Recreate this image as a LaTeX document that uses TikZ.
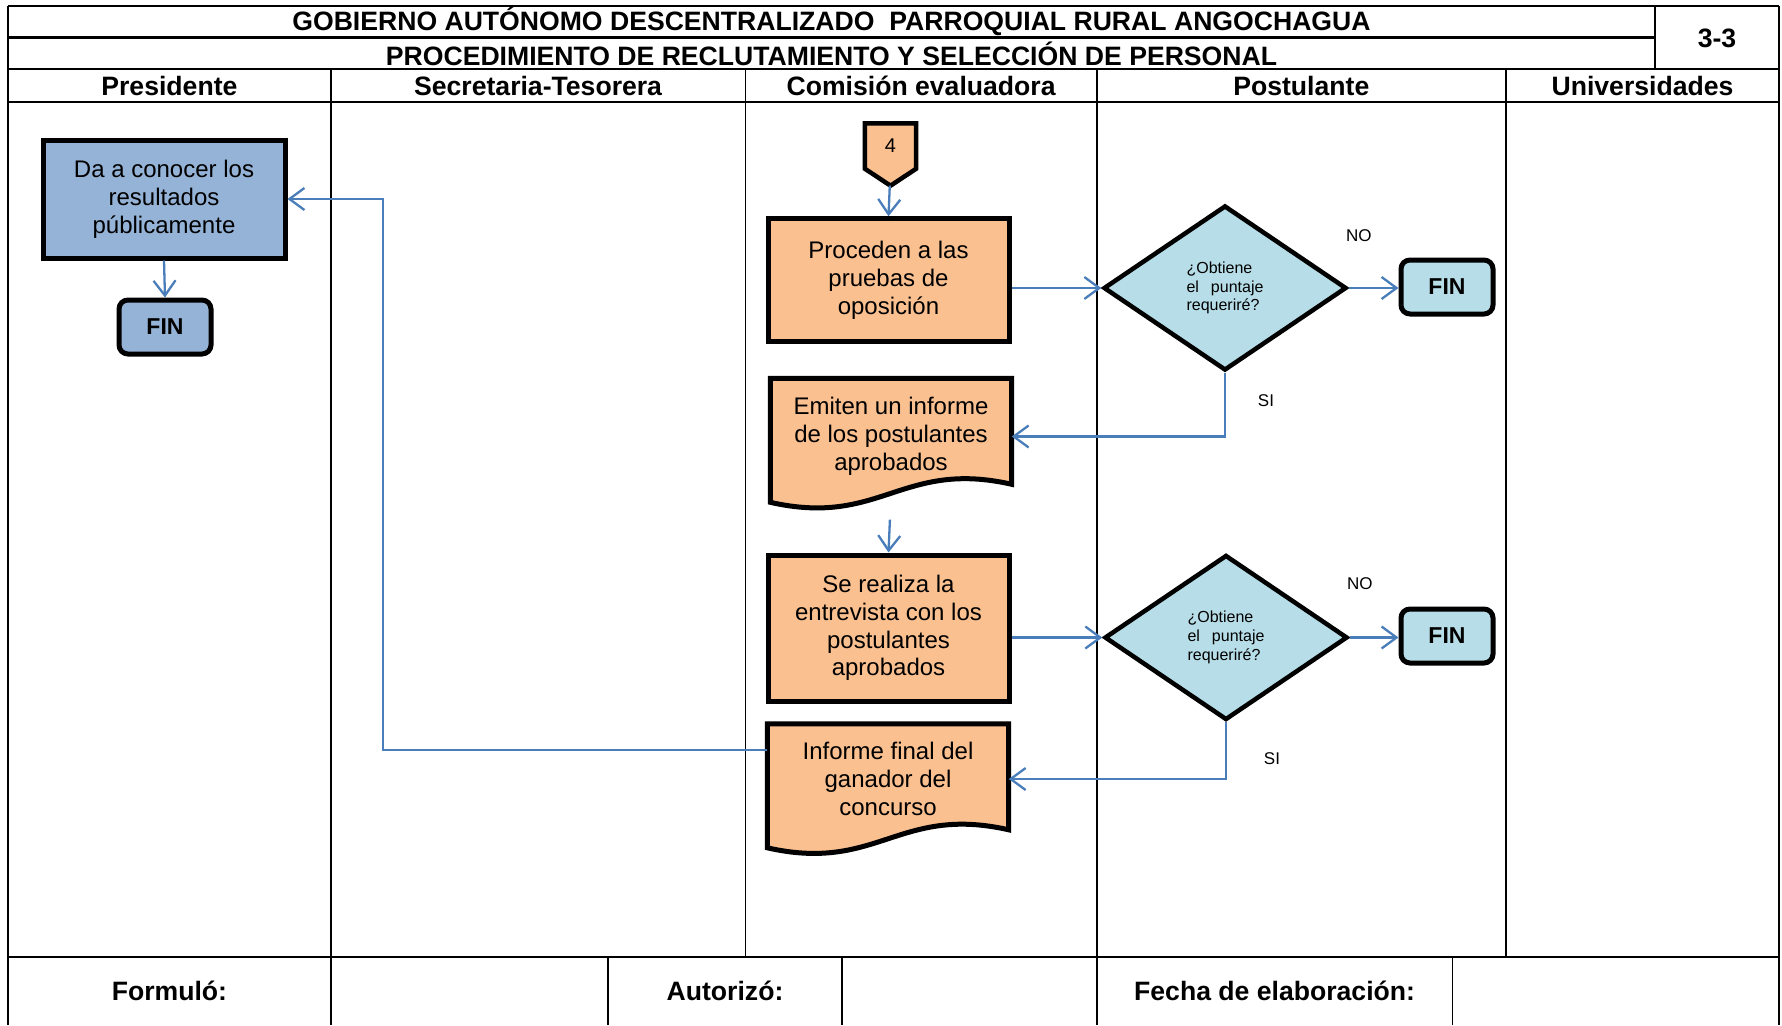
\documentclass[tikz,border=0pt]{standalone}
\usepackage{fontspec}
\setmainfont{Liberation Sans}
\usetikzlibrary{arrows.meta,shapes.geometric,calc,backgrounds}

\definecolor{presblue}{HTML}{95B3D7}
\definecolor{procorange}{HTML}{FAC090}
\definecolor{decblue}{HTML}{B7DEE8}
\definecolor{flowblue}{HTML}{4A7EBB}

\tikzset{
  rule/.style={line width=2.2pt},
  lanerule/.style={line width=1.8pt},
  headtext/.style={font=\fontsize{26.6}{30}\selectfont\bfseries, inner sep=0pt},
  boxtext/.style={font=\fontsize{24}{27.8}\selectfont, align=center, inner sep=0pt},
  process/.style={boxtext, draw, line width=5pt, fill=procorange, minimum width=241pt},
  presbox/.style={boxtext, draw, line width=5pt, fill=presblue, minimum width=242pt, minimum height=118pt},
  terminal/.style={draw, line width=5pt, rounded corners=9pt, minimum width=92pt, minimum height=54pt,
    inner sep=0pt, font=\fontsize{23}{27}\selectfont\bfseries},
  decision/.style={diamond, draw, line width=4.5pt, fill=decblue, minimum width=243pt, minimum height=165pt,
    inner sep=0pt, align=left, font=\fontsize{16}{18.8}\selectfont},
  docnode/.style={boxtext, minimum width=241pt, minimum height=110pt},
  docline/.style={draw, line width=5pt, fill=procorange},
  offpage/.style={minimum width=51pt, minimum height=45pt, inner sep=0pt, font=\fontsize{20}{22}\selectfont},
  flow/.style={draw=flowblue, line width=2.3pt, -{Straight Barb[length=15pt,width=22pt]}},
  branch/.style={font=\fontsize{17}{20}\selectfont, inner sep=0pt},
}

% outline of a document symbol with a wavy lower edge
\newcommand\docoutline[1]{%
  \path[docline] (#1.north west) -- (#1.north east) -- ($(#1.north east)+(0,106)$)
    .. controls +(-110,-25) and +(110,25) .. ($(#1.north west)+(0,124)$) -- cycle;}

\begin{document}
\begin{tikzpicture}[x=1pt,y=-1pt]
\useasboundingbox (0,0) rectangle (1782,1025);

% ---- table frame ----
\draw[rule] (8,6) -- (1779,6);
\draw[rule] (8,6) -- (8,1025);
\draw[rule] (1779,6) -- (1779,1025);
\draw[rule] (8,37.5) -- (1655,37.5);
\draw[rule] (1655,6) -- (1655,69.3);
\draw[rule] (8,69.3) -- (1779,69.3);
\draw[rule] (8,102.3) -- (1779,102.3);
\draw[rule] (8,957) -- (1779,957);
\foreach \x in {330.7,745.5,1096.7,1505.9}
  \draw[lanerule] (\x,69.3) -- (\x,957);
\foreach \x in {330.7,608,842,1096.7,1452.5}
  \draw[lanerule] (\x,957) -- (\x,1025);

% ---- titles ----
\node[headtext] (t1) at (831.5,21.8) {GOBIERNO AUTÓNOMO DESCENTRALIZADO~ PARROQUIAL RURAL ANGOCHAGUA};
\node[headtext] (t2) at (831.5,53.6) {PROCEDIMIENTO DE RECLUTAMIENTO Y SELECCIÓN DE PERSONAL};
\node[headtext] (sheet) at (1717,38) {3-3};

% ---- lane headers ----
\node[headtext] (h1) at (169.4,86) {Presidente};
\node[headtext] (h2) at (538.1,86) {Secretaria-Tesorera};
\node[headtext] (h3) at (921.1,86) {Comisión evaluadora};
\node[headtext] (h4) at (1301.3,86) {Postulante};
\node[headtext] (h5) at (1642.5,86) {Universidades};

% ---- footer ----
\node[headtext] (f1) at (169.4,991) {Formuló:};
\node[headtext] (f2) at (725,991) {Autorizó:};
\node[headtext] (f3) at (1274.6,991) {Fecha de elaboración:};

% ---- Presidente ----
\node[presbox] (pres) at (164,199) {Da a conocer los\\resultados\\públicamente};
\node[terminal, fill=presblue] (finP) at (165,327) {FIN};

% ---- Comisión evaluadora ----
\node[offpage] (c4) at (890.5,146) {4};
\node[process, minimum height=122.5pt] (proc) at (888.5,280) {Proceden a las\\pruebas de\\oposición};
\node[docnode, minimum height=116pt] (emit) at (891,436.5) {Emiten un informe\\de los postulantes\\aprobados};
\node[process, minimum height=146pt] (entr) at (888.5,628) {Se realiza la\\entrevista con los\\postulantes\\aprobados};
\node[docnode] (final) at (888,779) {Informe final del\\ganador del\\concurso};

% ---- Postulante ----
\node[decision] (d1) at (1225,288) {¿Obtiene\\el\hspace{0.75em}puntaje\\requeriré?};
\node[decision] (d2) at (1226,637.5) {¿Obtiene\\el\hspace{0.75em}puntaje\\requeriré?};
\node[terminal, fill=decblue] (fin1) at (1447,287) {FIN};
\node[terminal, fill=decblue] (fin2) at (1447,636) {FIN};

\node[branch] (no1) at ($(d1.east)+(10,-52)$) {NO};
\node[branch] (no2) at ($(d2.east)+(10,-54)$) {NO};
\node[branch] (si1) at ($(d1.south)+(41,28)$) {SI};
\node[branch] (si2) at ($(d2.south)+(46,36)$) {SI};

% ---- outlined symbols behind their text ----
\begin{scope}[on background layer]
  \docoutline{emit}
  \docoutline{final}
  \path[draw, line width=4.5pt, fill=procorange]
    (c4.north west) -- (c4.north east) -- (c4.south east)
    -- ($(c4.south)+(0,17)$) -- (c4.south west) -- cycle;
\end{scope}

% ---- connectors ----
\coordinate (retx) at (383,0);
\coordinate (infout) at ($(final.north west)+(0,26)$);

\draw[flow] (pres.south) -- (finP.north);
\draw[flow, shorten <=17pt] (c4.south) -- (proc.north);
\draw[flow] (proc.east |- d1.west) -- (d1.west);
\draw[flow] (d1.east) -- (d1.east -| fin1.west);
\draw[flow] (d1.south) |- (emit.east);
\draw[flow, shorten <=25pt] (emit.south) -- (entr.north);
\draw[flow] (entr.east |- d2.west) -- (d2.west);
\draw[flow] (d2.east) -- (d2.east -| fin2.west);
\draw[flow] (d2.south) |- (final.east);
\draw[flow] (infout) -- (infout -| retx) |- (pres.east);
\end{tikzpicture}
\end{document}
